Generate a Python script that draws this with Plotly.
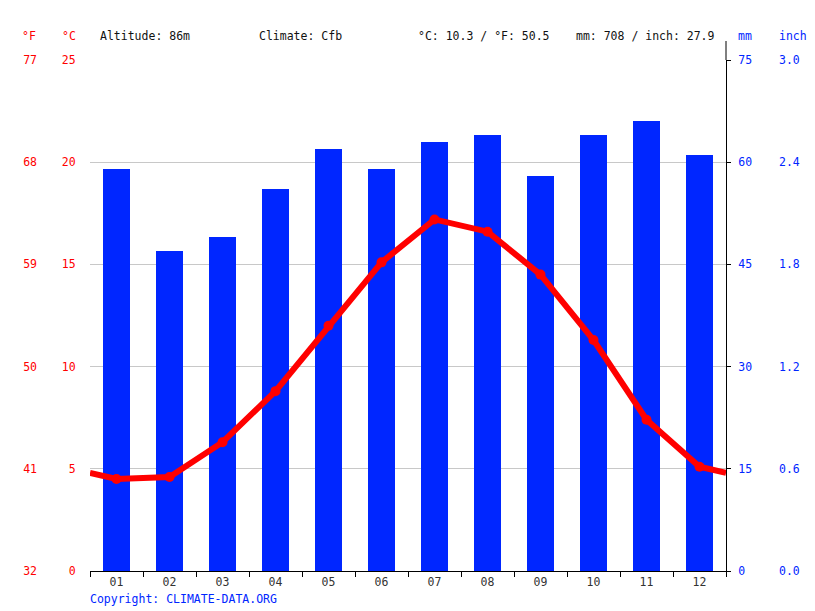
import plotly.graph_objects as go

OFF = 8  # page body margin
W, H = 815 - OFF, 611 - OFF

months = ["01", "02", "03", "04", "05", "06", "07", "08", "09", "10", "11", "12"]
temp_c = [4.5, 4.6, 6.3, 8.8, 12.0, 15.1, 17.2, 16.6, 14.5, 11.3, 7.4, 5.1]
precip_mm = [59, 47, 49, 56, 62, 59, 63, 64, 58, 64, 66, 61]

c_ticks = [0, 5, 10, 15, 20, 25]
f_ticks = [32, 41, 50, 59, 68, 77]
mm_ticks = [0, 15, 30, 45, 60, 75]
inch_ticks = [0.0, 0.6, 1.2, 1.8, 2.4, 3.0]

header_left = ["Altitude: 86m", "Climate: Cfb", "°C: 10.3 / °F: 50.5", "mm: 708 / inch: 27.9"]
header_x = [100, 259, 418, 576]

RED = "#ff0000"
BLUE = "#0026ff"
FONT = "DejaVu Sans Mono"
FS = 11.5

# plot area in reference pixels
PL, PR, PT, PB = 90, 726, 60, 571
px = lambda x: (x - OFF) / W
py = lambda y: 1 - (y - OFF) / H

xpos = list(range(1, 13))
# wrap-around: the line continues to the edges of the year
edge = (temp_c[0] + temp_c[-1]) / 2
line_x = [0.5] + xpos + [12.5]
line_y = [edge] + temp_c + [edge]

fig = go.Figure()
fig.add_trace(go.Bar(x=xpos, y=precip_mm, marker=dict(color=BLUE, line=dict(width=0)),
                     width=0.51, yaxis="y", hoverinfo="y"))
fig.add_trace(go.Scatter(x=line_x, y=line_y, mode="lines", yaxis="y2",
                         line=dict(color=RED, width=6), hoverinfo="skip"))
fig.add_trace(go.Scatter(x=xpos, y=temp_c, mode="markers", yaxis="y2",
                         marker=dict(color=RED, size=10), hoverinfo="y"))

fig.update_layout(
    width=W, height=H, autosize=False,
    margin=dict(l=0, r=0, t=0, b=0),
    paper_bgcolor="white", plot_bgcolor="white",
    showlegend=False, bargap=0,
    font=dict(family=FONT, size=FS, color="#222"),
    xaxis=dict(
        domain=[px(PL), px(PR)], range=[0.5, 12.5], anchor="y",
        tickvals=xpos, ticktext=months, ticks="", showgrid=False,
        showline=True, linecolor="black", linewidth=1, zeroline=False,
        tickfont=dict(family=FONT, size=FS, color="#333"),
        minor=dict(tickvals=[i + 0.5 for i in range(0, 13)], ticks="outside",
                   ticklen=5, tickcolor="black", tickwidth=1, showgrid=False),
        automargin=False, fixedrange=True,
    ),
    yaxis=dict(
        domain=[py(PB), py(PT)], range=[0, 75], tickvals=mm_ticks,
        side="right", anchor="x", showline=True, linecolor="black", linewidth=1,
        ticks="outside", ticklen=4, tickcolor="black", ticklabelstandoff=5,
        showgrid=True, gridcolor="#c8c8c8", gridwidth=1, zeroline=False,
        tickfont=dict(family=FONT, size=FS, color=BLUE),
        automargin=False, fixedrange=True,
    ),
    yaxis2=dict(
        overlaying="y", range=[0, 25], tickvals=c_ticks, side="left", anchor="x",
        showline=False, showgrid=False, zeroline=False,
        ticks="outside", ticklen=11, tickcolor="rgba(0,0,0,0)",
        tickfont=dict(family=FONT, size=FS, color=RED),
        automargin=False, fixedrange=True,
    ),
    yaxis3=dict(
        overlaying="y", range=[32, 77], tickvals=f_ticks, side="left", anchor="free",
        position=px(37), showline=False, showgrid=False, zeroline=False, ticks="",
        tickfont=dict(family=FONT, size=FS, color=RED),
        automargin=False, fixedrange=True,
    ),
    yaxis4=dict(
        overlaying="y", range=[0, 3], tickvals=inch_ticks, tickformat=".1f",
        side="right", anchor="free", position=px(778),
        showline=False, showgrid=False, zeroline=False, ticks="",
        tickfont=dict(family=FONT, size=FS, color=BLUE),
        automargin=False, fixedrange=True,
    ),
)

# dummy traces so the extra axes render
fig.add_trace(go.Scatter(x=[None], y=[None], yaxis="y3", showlegend=False))
fig.add_trace(go.Scatter(x=[None], y=[None], yaxis="y4", showlegend=False))

# right axis line continues above the plot area
fig.add_shape(type="line", xref="paper", yref="paper", x0=px(PR), x1=px(PR),
              y0=py(PT), y1=py(41), line=dict(color="black", width=1))

ann = []
ann.append(dict(text="°F", x=px(38), y=py(36), xanchor="right", font=dict(color=RED)))
ann.append(dict(text="°C", x=px(78), y=py(36), xanchor="right", font=dict(color=RED)))
ann.append(dict(text="mm", x=px(736), y=py(36), xanchor="left", font=dict(color=BLUE)))
ann.append(dict(text="inch", x=px(777), y=py(36), xanchor="left", font=dict(color=BLUE)))
for t, x in zip(header_left, header_x):
    ann.append(dict(text=t, x=px(x - 2), y=py(36), xanchor="left", font=dict(color="#111")))
ann.append(dict(text="Copyright: CLIMATE-DATA.ORG", x=px(88), y=py(599), xanchor="left",
                font=dict(color=BLUE)))
for a in ann:
    a.update(xref="paper", yref="paper", yanchor="middle", showarrow=False)
    a["font"].update(family=FONT, size=FS)
fig.update_layout(annotations=ann)

fig.write_html("out.html", config={"displayModeBar": False})
